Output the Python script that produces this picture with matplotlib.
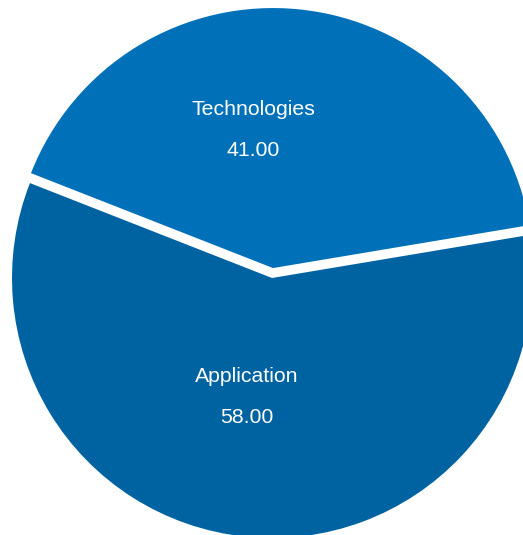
import matplotlib
matplotlib.use("Agg")
import matplotlib.pyplot as plt

# data
labels = ["Technologies", "Application"]
values = [41.00, 58.00]
colors = ["#0071b9", "#0063a1"]

W, H = 523, 535
fig = plt.figure(figsize=(W / 100, H / 100), dpi=100)
ax = fig.add_axes([0, 0, 1, 1])

# pie centre / radius in pixel units (pie is bigger than the canvas, gets clipped)
cx, cy, r = 272, H - 278, 260
# explode is in data units here (pixels), not a fraction of the radius
ax.pie(values, colors=colors, startangle=9.5, counterclock=True,
       explode=[10, 0], radius=r, center=(cx, cy),
       wedgeprops=dict(linewidth=0))

# labels inside slices
txt = dict(color="white", fontsize=15.3, family=["Liberation Sans", "DejaVu Sans"],
           ha="center", va="baseline")
lab_pos = [(253, 115), (247, 382)]
val_pos = [(253, 156), (247, 423)]
for name, v, (lx, ly), (vx, vy) in zip(labels, values, lab_pos, val_pos):
    ax.text(lx, H - ly, name, **txt)
    ax.text(vx, H - vy, f"{v:.2f}", **txt)

ax.set_xlim(0, W)
ax.set_ylim(0, H)
ax.set_aspect("equal")
ax.axis("off")

fig.savefig("out.png", dpi=100)
